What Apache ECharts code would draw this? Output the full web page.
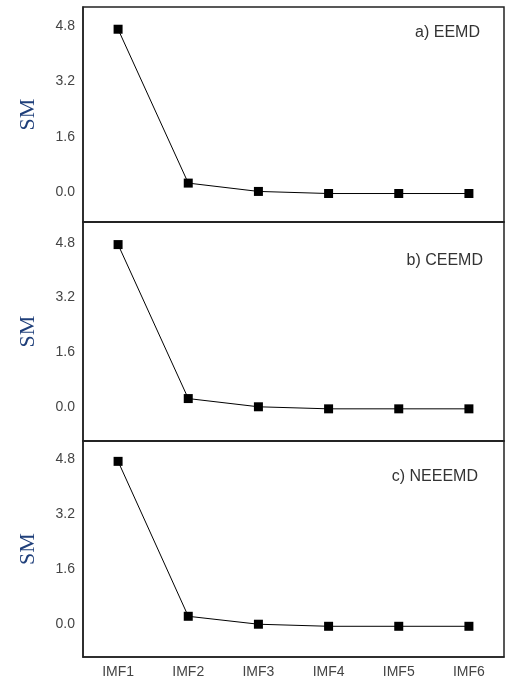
<!DOCTYPE html>
<html>
<head>
<meta charset="utf-8">
<script src="https://cdn.jsdelivr.net/npm/echarts@6/dist/echarts.min.js"></script>
<style>html,body{margin:0;padding:0;background:#fff}#c{width:505px;height:684px}</style>
</head>
<body>
<div id="c"></div>
<script>
const categories = ['IMF1', 'IMF2', 'IMF3', 'IMF4', 'IMF5', 'IMF6'];
const eemd = [4.70, 0.27, 0.03, -0.03, -0.03, -0.03];
const ceemd = [4.75, 0.25, 0.01, -0.05, -0.05, -0.05];
const neeemd = [4.73, 0.24, 0.01, -0.05, -0.05, -0.05];
const yTicks = [0, 1.6, 3.2, 4.8];
const panelTitles = ['a) EEMD', 'b) CEEMD', 'c) NEEEMD'];
const yName = 'SM';

const seriesData = [eemd, ceemd, neeemd];
const grids = [
  {left: 83, right: 1, top: 7, height: 215},
  {left: 83, right: 1, top: 222, height: 219},
  {left: 83, right: 1, top: 441, height: 216}
];
const yRanges = [[-0.85, 5.34], [-0.99, 5.41], [-0.94, 5.32]];
const titleTops = [25, 253, 469];
const titleRights = [25, 22, 27];

const chart = echarts.init(document.getElementById('c'), null, {renderer: 'canvas'});
const option = {
  animation: false,
  backgroundColor: '#fff',
  title: panelTitles.map((t, i) => ({
    text: t, right: titleRights[i], top: titleTops[i], padding: 0,
    textStyle: {fontSize: 16, fontWeight: 'normal', color: '#333', fontFamily: 'Liberation Sans'}
  })),
  grid: grids.map(g => Object.assign({show: true, borderColor: '#222', borderWidth: 1.5, containLabel: false}, g)),
  xAxis: grids.map((g, i) => ({
    type: 'category', gridIndex: i, data: categories, boundaryGap: true,
    axisLine: {show: true, onZero: false, lineStyle: {color: '#222', width: 1.5}},
    axisTick: {show: false},
    axisLabel: {show: i === 2, color: '#444', fontSize: 14, margin: 8, fontFamily: 'Liberation Sans'},
    splitLine: {show: false}
  })),
  yAxis: grids.map((g, i) => ({
    type: 'value', gridIndex: i, min: yRanges[i][0], max: yRanges[i][1],
    name: yName, nameLocation: 'middle', nameRotate: 90, nameGap: 44,
    nameTextStyle: {fontSize: 22, color: '#1f3f7a', fontFamily: 'Liberation Serif'},
    axisLine: {show: true, lineStyle: {color: '#222', width: 1.5}},
    axisTick: {show: false},
    axisLabel: {color: '#444', fontSize: 14, margin: 8, fontFamily: 'Liberation Sans',
      customValues: yTicks, formatter: v => v.toFixed(1)},
    splitLine: {show: false}
  })),
  series: seriesData.map((d, i) => ({
    type: 'line', xAxisIndex: i, yAxisIndex: i, data: d,
    symbol: 'rect', symbolSize: 9,
    itemStyle: {color: '#000'},
    lineStyle: {color: '#000', width: 1}
  }))
};
chart.setOption(option);
</script>
</body>
</html>
